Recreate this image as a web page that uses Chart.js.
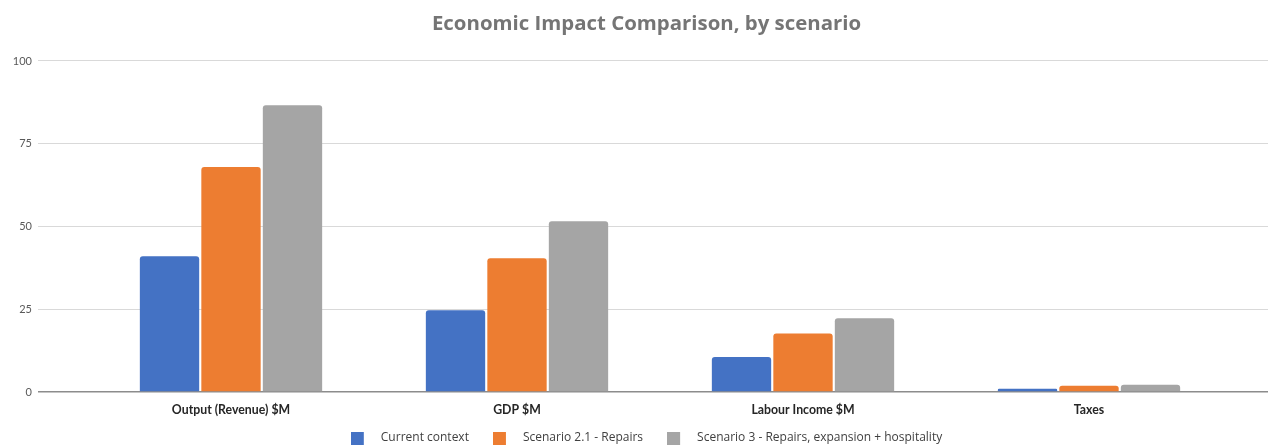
<!DOCTYPE html>
<html>
<head>
<meta charset="utf-8">
<title>Economic Impact Comparison, by scenario</title>
<script src="https://cdn.jsdelivr.net/npm/chart.js@4.4.1/dist/chart.umd.min.js"></script>
<style>
  html, body { margin: 0; padding: 0; background: #ffffff; }
  #wrap { width: 1271px; height: 446px; }
</style>
</head>
<body>
<div id="wrap"><canvas id="chart" width="1271" height="446"></canvas></div>
<script>
// Categories and series values ($M)
const categories = ['Output (Revenue) $M', 'GDP $M', 'Labour Income $M', 'Taxes'];
const seriesNames = ['Current context', 'Scenario 2.1 - Repairs', 'Scenario 3 - Repairs, expansion + hospitality'];
const currentContext = [41.0, 24.7, 10.6, 1.0];
const scenario21 = [68.0, 40.4, 17.7, 1.9];
const scenario3 = [86.6, 51.6, 22.3, 2.2];
const yTicks = [0, 25, 50, 75, 100];

const seriesColors = ['#4472C4', '#ED7D31', '#A5A5A5'];
const SANS = '"Open Sans", Lato, sans-serif';
const LATO = 'Lato, "Open Sans", sans-serif';

// Legend swatch: a 13px square at the left of a wider transparent canvas,
// which widens the gap between the swatch and its label.
function legendSwatch(color) {
  const c = document.createElement('canvas');
  c.width = 24;
  c.height = 13;
  const g = c.getContext('2d');
  g.fillStyle = color;
  g.fillRect(0, 0, 13, 13);
  return c;
}

// Let tick labels spill outside their (deliberately narrow) axis boxes.
const noLabelClip = (s) => { s._computeLabelArea = () => undefined; };

const gridColor = (ctx) => (ctx.tick && ctx.tick.value === 0 ? '#8c8c8c' : '#d9d9d9');
const gridWidth = (ctx) => (ctx.tick && ctx.tick.value === 0 ? 1.5 : 1);

const seriesData = [currentContext, scenario21, scenario3];

new Chart(document.getElementById('chart'), {
  type: 'bar',
  data: {
    labels: categories,
    datasets: seriesNames.map((name, i) => ({
      label: name,
      data: seriesData[i],
      backgroundColor: seriesColors[i],
      borderRadius: 3,
      categoryPercentage: 0.645,
      barPercentage: 0.965,
      pointStyle: legendSwatch(seriesColors[i])
    }))
  },
  options: {
    responsive: false,
    animation: false,
    layout: { padding: { left: 22, right: 0, top: 0, bottom: 0 } },
    plugins: {
      title: {
        display: true,
        text: 'Economic Impact Comparison, by scenario',
        color: '#757575',
        font: { family: SANS, size: 20.4, weight: 'bold' },
        padding: { top: 12, bottom: 24.5 }
      },
      legend: {
        position: 'bottom',
        maxHeight: 38,
        labels: {
          usePointStyle: true,
          pointStyleWidth: 24,
          padding: 24,
          color: '#404040',
          font: { family: SANS, size: 12 }
        }
      },
      tooltip: { enabled: false }
    },
    scales: {
      x: {
        grid: { display: false },
        border: { display: false },
        ticks: {
          color: '#262626',
          padding: 3,
          font: { family: LATO, size: 12.3, weight: 'bold' }
        },
        afterFit: (s) => { s.height = 16; noLabelClip(s); }
      },
      y: {
        min: yTicks[0],
        max: yTicks[yTicks.length - 1],
        afterBuildTicks: (s) => { s.ticks = yTicks.map((v) => ({ value: v })); },
        ticks: {
          color: '#595959',
          padding: 6,
          font: { family: LATO, size: 11 }
        },
        grid: { color: gridColor, lineWidth: gridWidth, tickLength: 50 },
        border: { display: false },
        afterFit: (s) => { s.width = 66; noLabelClip(s); }
      },
      yRight: {
        type: 'linear',
        position: 'right',
        min: yTicks[0],
        max: yTicks[yTicks.length - 1],
        afterBuildTicks: (s) => { s.ticks = yTicks.map((v) => ({ value: v })); },
        ticks: { display: false },
        grid: { color: gridColor, lineWidth: gridWidth, tickLength: 36, drawOnChartArea: false },
        border: { display: false },
        afterFit: (s) => { s.width = 39; }
      }
    }
  }
});
</script>
</body>
</html>
